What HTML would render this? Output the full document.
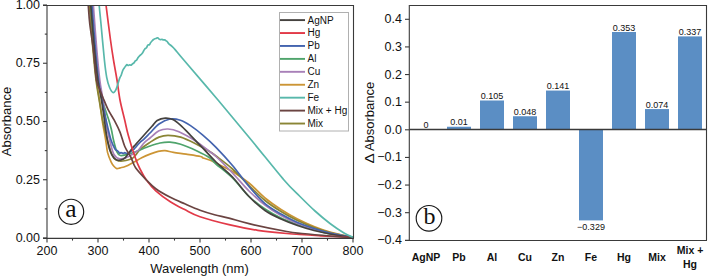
<!DOCTYPE html>
<html><head><meta charset="utf-8"><style>
html,body{margin:0;padding:0;background:#fff;}
body{width:708px;height:277px;overflow:hidden;position:relative;}
svg{position:absolute;left:0;top:0;}
text{font-family:"Liberation Sans",sans-serif;fill:#111;}
</style></head><body>
<svg width="708" height="277" viewBox="0 0 708 277">
<defs><clipPath id="ca"><rect x="47" y="5" width="306.5" height="233.4"/></clipPath></defs>
<g clip-path="url(#ca)" fill="none" stroke-width="1.7" stroke-linejoin="round" stroke-linecap="round">
<path d="M89.80,-8.00 C89.92,-5.75 89.88,-4.17 90.50,5.50 C91.12,15.17 92.50,37.58 93.50,50.00 C94.50,62.42 95.50,71.67 96.50,80.00 C97.50,88.33 98.50,93.00 99.50,100.00 C100.50,107.00 101.47,115.33 102.50,122.00 C103.53,128.67 104.85,134.90 105.70,140.00 C106.55,145.10 106.68,148.92 107.60,152.60 C108.52,156.28 110.15,159.83 111.20,162.10 C112.25,164.37 112.97,165.12 113.90,166.20 C114.83,167.28 115.75,168.33 116.80,168.60 C117.85,168.87 119.00,168.07 120.20,167.80 C121.40,167.53 122.73,167.38 124.00,167.00 C125.27,166.62 126.12,166.32 127.80,165.50 C129.48,164.68 131.78,163.40 134.10,162.10 C136.42,160.80 138.95,159.07 141.70,157.70 C144.45,156.33 147.85,154.95 150.60,153.90 C153.35,152.85 155.80,151.95 158.20,151.40 C160.60,150.85 162.45,150.43 165.00,150.60 C167.55,150.77 169.98,151.80 173.50,152.40 C177.02,153.00 181.60,153.52 186.10,154.20 C190.60,154.88 197.67,155.87 200.50,156.50 C203.33,157.13 201.60,157.42 203.10,158.00 C204.60,158.58 207.35,159.15 209.50,160.00 C211.65,160.85 212.17,161.18 216.00,163.10 C219.83,165.02 227.00,168.18 232.50,171.50 C238.00,174.82 243.58,178.58 249.00,183.00 C254.42,187.42 259.67,193.58 265.00,198.00 C270.33,202.42 275.58,206.00 281.00,209.50 C286.42,213.00 292.00,216.17 297.50,219.00 C303.00,221.83 308.58,224.33 314.00,226.50 C319.42,228.67 323.50,230.20 330.00,232.00 C336.50,233.80 349.17,236.42 353.00,237.30" stroke="#cc9535"/>
<path d="M88.70,-8.00 C88.82,-5.75 88.68,-4.17 89.40,5.50 C90.12,15.17 91.90,37.58 93.00,50.00 C94.10,62.42 94.97,71.67 96.00,80.00 C97.03,88.33 98.03,93.00 99.20,100.00 C100.37,107.00 101.63,115.33 103.00,122.00 C104.37,128.67 105.82,134.35 107.40,140.00 C108.98,145.65 110.93,152.53 112.50,155.90 C114.07,159.27 115.12,159.35 116.80,160.20 C118.48,161.05 119.95,161.35 122.60,161.00 C125.25,160.65 129.80,160.00 132.70,158.10 C135.60,156.20 137.12,152.22 140.00,149.60 C142.88,146.98 146.83,144.48 150.00,142.40 C153.17,140.32 156.00,138.28 159.00,137.10 C162.00,135.92 164.38,135.30 168.00,135.30 C171.62,135.30 176.18,135.75 180.70,137.10 C185.22,138.45 190.28,141.00 195.10,143.40 C199.92,145.80 206.12,149.40 209.60,151.50 C213.08,153.60 212.18,153.08 216.00,156.00 C219.82,158.92 227.00,164.08 232.50,169.00 C238.00,173.92 243.58,180.25 249.00,185.50 C254.42,190.75 259.67,196.17 265.00,200.50 C270.33,204.83 275.58,208.17 281.00,211.50 C286.42,214.83 292.00,217.83 297.50,220.50 C303.00,223.17 308.58,225.50 314.00,227.50 C319.42,229.50 323.50,230.85 330.00,232.50 C336.50,234.15 349.17,236.58 353.00,237.40" stroke="#8a8535"/>
<path d="M90.10,-8.00 C90.22,-5.75 90.02,-4.17 90.80,5.50 C91.58,15.17 93.52,37.58 94.80,50.00 C96.08,62.42 97.33,72.00 98.50,80.00 C99.67,88.00 100.80,93.47 101.80,98.00 C102.80,102.53 103.33,103.53 104.50,107.20 C105.67,110.87 107.63,116.20 108.80,120.00 C109.97,123.80 110.72,126.67 111.50,130.00 C112.28,133.33 112.62,136.40 113.50,140.00 C114.38,143.60 115.65,149.02 116.80,151.60 C117.95,154.18 118.72,155.02 120.40,155.50 C122.08,155.98 124.97,154.92 126.90,154.50 C128.83,154.08 130.07,153.67 132.00,153.00 C133.93,152.33 135.50,151.67 138.50,150.50 C141.50,149.33 146.42,147.25 150.00,146.00 C153.58,144.75 156.67,143.63 160.00,143.00 C163.33,142.37 166.55,141.98 170.00,142.20 C173.45,142.42 176.20,142.83 180.70,144.30 C185.20,145.77 192.18,148.75 197.00,151.00 C201.82,153.25 206.43,155.63 209.60,157.80 C212.77,159.97 212.18,160.63 216.00,164.00 C219.82,167.37 227.00,172.58 232.50,178.00 C238.00,183.42 243.58,191.33 249.00,196.50 C254.42,201.67 259.67,205.42 265.00,209.00 C270.33,212.58 275.58,215.42 281.00,218.00 C286.42,220.58 292.00,222.58 297.50,224.50 C303.00,226.42 308.58,227.95 314.00,229.50 C319.42,231.05 323.50,232.45 330.00,233.80 C336.50,235.15 349.17,236.97 353.00,237.60" stroke="#4fa46c"/>
<path d="M92.70,-8.00 C92.82,-5.75 92.72,-4.17 93.40,5.50 C94.08,15.17 95.73,37.58 96.80,50.00 C97.87,62.42 98.77,71.67 99.80,80.00 C100.83,88.33 101.97,93.00 103.00,100.00 C104.03,107.00 104.90,115.33 106.00,122.00 C107.10,128.67 108.28,134.58 109.60,140.00 C110.92,145.42 112.22,151.37 113.90,154.50 C115.58,157.63 117.53,158.33 119.70,158.80 C121.87,159.27 124.85,158.02 126.90,157.30 C128.95,156.58 130.07,155.72 132.00,154.50 C133.93,153.28 136.50,151.92 138.50,150.00 C140.50,148.08 142.08,145.00 144.00,143.00 C145.92,141.00 147.50,140.03 150.00,138.00 C152.50,135.97 156.00,132.30 159.00,130.80 C162.00,129.30 164.68,128.85 168.00,129.00 C171.32,129.15 174.38,129.75 178.90,131.70 C183.42,133.65 189.98,137.40 195.10,140.70 C200.22,144.00 206.12,148.87 209.60,151.50 C213.08,154.13 212.18,152.92 216.00,156.50 C219.82,160.08 227.00,167.25 232.50,173.00 C238.00,178.75 243.58,185.67 249.00,191.00 C254.42,196.33 259.67,200.92 265.00,205.00 C270.33,209.08 275.58,212.42 281.00,215.50 C286.42,218.58 292.00,221.25 297.50,223.50 C303.00,225.75 308.58,227.37 314.00,229.00 C319.42,230.63 323.50,231.88 330.00,233.30 C336.50,234.72 349.17,236.80 353.00,237.50" stroke="#a880b8"/>
<path d="M91.30,-8.00 C91.42,-5.75 91.30,-4.17 92.00,5.50 C92.70,15.17 94.42,37.58 95.50,50.00 C96.58,62.42 97.42,71.67 98.50,80.00 C99.58,88.33 100.67,93.00 102.00,100.00 C103.33,107.00 105.00,115.33 106.50,122.00 C108.00,128.67 109.58,135.50 111.00,140.00 C112.42,144.50 114.00,147.27 115.00,149.00 C116.00,150.73 116.45,149.98 117.00,150.40 C117.55,150.83 117.87,151.10 118.30,151.57 C118.73,152.03 119.17,153.01 119.60,153.19 C120.03,153.37 120.47,152.70 120.90,152.66 C121.33,152.63 121.77,152.86 122.20,152.98 C122.63,153.10 123.07,153.41 123.50,153.36 C123.93,153.32 124.37,152.72 124.80,152.69 C125.23,152.67 125.67,153.10 126.10,153.21 C126.53,153.32 126.97,153.30 127.40,153.36 C127.83,153.42 128.27,153.80 128.70,153.58 C129.13,153.37 129.57,152.48 130.00,152.06 C130.43,151.65 130.87,151.54 131.30,151.09 C131.73,150.65 132.17,149.66 132.60,149.37 C133.03,149.07 133.47,149.58 133.90,149.32 C134.33,149.05 134.18,148.90 135.20,147.76 C136.22,146.63 138.58,143.91 140.00,142.50 C141.42,141.09 142.03,140.88 143.70,139.30 C145.37,137.72 147.45,135.55 150.00,133.00 C152.55,130.45 155.67,126.33 159.00,124.00 C162.33,121.67 166.43,119.63 170.00,119.00 C173.57,118.37 176.98,119.10 180.40,120.20 C183.82,121.30 186.72,123.08 190.50,125.60 C194.28,128.12 198.85,131.68 203.10,135.30 C207.35,138.92 211.10,142.27 216.00,147.30 C220.90,152.33 227.00,158.97 232.50,165.50 C238.00,172.03 243.58,180.15 249.00,186.50 C254.42,192.85 259.67,199.02 265.00,203.60 C270.33,208.18 275.58,210.85 281.00,214.00 C286.42,217.15 292.00,220.08 297.50,222.50 C303.00,224.92 308.58,226.75 314.00,228.50 C319.42,230.25 323.50,231.50 330.00,233.00 C336.50,234.50 349.17,236.75 353.00,237.50" stroke="#4464af"/>
<path d="M89.90,-8.00 C90.05,-5.75 90.03,-4.17 90.80,5.50 C91.57,15.17 93.33,37.58 94.50,50.00 C95.67,62.42 96.63,71.67 97.80,80.00 C98.97,88.33 100.35,93.00 101.50,100.00 C102.65,107.00 103.78,115.67 104.70,122.00 C105.62,128.33 106.10,133.17 107.00,138.00 C107.90,142.83 108.93,147.67 110.10,151.00 C111.27,154.33 112.77,156.45 114.00,158.00 C115.23,159.55 116.33,159.97 117.50,160.30 C118.67,160.63 119.83,160.33 121.00,160.00 C122.17,159.67 123.33,159.30 124.50,158.30 C125.67,157.30 126.78,155.55 128.00,154.00 C129.22,152.45 130.63,150.47 131.80,149.00 C132.97,147.53 133.92,146.45 135.00,145.20 C136.08,143.95 136.63,143.37 138.30,141.50 C139.97,139.63 142.72,136.53 145.00,134.00 C147.28,131.47 149.97,128.55 152.00,126.30 C154.03,124.05 154.98,121.87 157.20,120.50 C159.42,119.13 162.70,118.25 165.30,118.10 C167.90,117.95 170.28,118.42 172.80,119.60 C175.32,120.78 177.45,122.58 180.40,125.20 C183.35,127.82 186.72,131.43 190.50,135.30 C194.28,139.17 198.85,143.95 203.10,148.40 C207.35,152.85 211.10,157.23 216.00,162.00 C220.90,166.77 227.00,171.25 232.50,177.00 C238.00,182.75 243.58,190.92 249.00,196.50 C254.42,202.08 259.67,206.75 265.00,210.50 C270.33,214.25 275.58,216.50 281.00,219.00 C286.42,221.50 292.00,223.58 297.50,225.50 C303.00,227.42 308.58,229.08 314.00,230.50 C319.42,231.92 323.50,232.82 330.00,234.00 C336.50,235.18 349.17,237.00 353.00,237.60" stroke="#45423f"/>
<path d="M104.50,-8.00 C104.75,-5.83 105.00,-3.00 106.00,5.00 C107.00,13.00 109.25,30.83 110.50,40.00 C111.75,49.17 112.42,53.33 113.50,60.00 C114.58,66.67 115.92,73.33 117.00,80.00 C118.08,86.67 118.72,93.33 120.00,100.00 C121.28,106.67 123.33,114.17 124.70,120.00 C126.07,125.83 126.48,128.83 128.20,135.00 C129.92,141.17 133.03,151.33 135.00,157.00 C136.97,162.67 138.10,165.17 140.00,169.00 C141.90,172.83 143.77,176.37 146.40,180.00 C149.03,183.63 151.82,187.18 155.80,190.80 C159.78,194.42 165.48,198.57 170.30,201.70 C175.12,204.83 179.75,207.10 184.70,209.60 C189.65,212.10 192.63,214.20 200.00,216.70 C207.37,219.20 219.27,222.33 228.90,224.60 C238.53,226.87 248.17,228.82 257.80,230.30 C267.43,231.78 276.33,232.58 286.70,233.50 C297.07,234.42 308.95,235.13 320.00,235.80 C331.05,236.47 347.50,237.22 353.00,237.50" stroke="#e23a48"/>
<path d="M87.50,-8.00 C87.63,-5.75 87.92,0.17 88.30,5.50 C88.68,10.83 88.95,16.58 89.80,24.00 C90.65,31.42 92.28,40.67 93.40,50.00 C94.52,59.33 95.40,73.33 96.50,80.00 C97.60,86.67 98.90,87.00 100.00,90.00 C101.10,93.00 101.77,94.77 103.10,98.00 C104.43,101.23 106.10,105.62 108.00,109.40 C109.90,113.18 112.50,116.92 114.50,120.70 C116.50,124.48 118.28,127.80 120.00,132.10 C121.72,136.40 122.97,142.27 124.80,146.50 C126.63,150.73 129.20,153.95 131.00,157.50 C132.80,161.05 133.03,164.05 135.60,167.80 C138.17,171.55 143.03,176.52 146.40,180.00 C149.77,183.48 151.82,185.82 155.80,188.70 C159.78,191.58 165.48,194.78 170.30,197.30 C175.12,199.82 179.75,201.65 184.70,203.80 C189.65,205.95 195.03,208.38 200.00,210.20 C204.97,212.02 209.68,213.38 214.50,214.70 C219.32,216.02 222.98,216.57 228.90,218.10 C234.82,219.63 240.37,221.67 250.00,223.90 C259.63,226.13 278.03,229.90 286.70,231.50 C295.37,233.10 294.78,232.75 302.00,233.50 C309.22,234.25 321.50,235.33 330.00,236.00 C338.50,236.67 349.17,237.25 353.00,237.50" stroke="#6b4442"/>
<path d="M98.30,-8.00 C98.45,-5.75 98.75,0.17 99.20,5.50 C99.65,10.83 100.13,14.92 101.00,24.00 C101.87,33.08 103.45,51.12 104.40,60.00 C105.35,68.88 105.83,72.72 106.70,77.30 C107.57,81.88 108.52,84.95 109.60,87.50 C110.68,90.05 112.10,92.35 113.20,92.60 C114.30,92.85 115.32,90.78 116.20,89.00 C117.08,87.22 117.88,83.81 118.50,81.92 C119.12,80.03 119.43,78.82 119.90,77.66 C120.37,76.51 120.83,76.15 121.30,74.97 C121.77,73.79 122.23,71.70 122.70,70.58 C123.17,69.46 123.63,68.98 124.10,68.25 C124.57,67.53 125.03,66.86 125.50,66.25 C125.97,65.64 126.43,64.73 126.90,64.60 C127.37,64.48 127.83,65.48 128.30,65.51 C128.77,65.54 129.23,64.83 129.70,64.77 C130.17,64.70 130.63,65.26 131.10,65.12 C131.57,64.97 132.03,64.28 132.50,63.90 C132.97,63.53 133.43,63.36 133.90,62.87 C134.37,62.38 134.83,61.44 135.30,60.96 C135.77,60.48 136.23,60.57 136.70,59.98 C137.17,59.39 137.63,58.09 138.10,57.41 C138.57,56.73 139.03,56.38 139.50,55.91 C139.97,55.45 140.43,55.09 140.90,54.64 C141.37,54.19 141.83,53.88 142.30,53.24 C142.77,52.60 143.23,51.57 143.70,50.80 C144.17,50.04 144.63,49.15 145.10,48.65 C145.57,48.16 146.03,48.42 146.50,47.81 C146.97,47.21 147.43,45.52 147.90,45.02 C148.37,44.52 148.83,45.25 149.30,44.84 C149.77,44.43 150.23,43.21 150.70,42.55 C151.17,41.89 151.63,41.40 152.10,40.89 C152.57,40.39 153.03,39.89 153.50,39.53 C153.97,39.16 154.43,38.89 154.90,38.69 C155.37,38.49 155.83,38.48 156.30,38.33 C156.77,38.19 157.23,37.68 157.70,37.80 C158.17,37.93 158.63,38.78 159.10,39.09 C159.57,39.40 160.03,39.61 160.50,39.66 C160.97,39.72 161.43,39.39 161.90,39.42 C162.37,39.45 162.83,39.76 163.30,39.84 C163.77,39.92 164.23,39.72 164.70,39.89 C165.17,40.05 165.63,40.47 166.10,40.82 C166.57,41.17 167.03,41.49 167.50,41.99 C167.97,42.49 168.15,43.08 168.90,43.82 C169.65,44.55 170.97,45.44 172.00,46.40 C173.03,47.36 173.13,47.33 175.10,49.60 C177.07,51.87 176.65,51.60 183.80,60.00 C190.95,68.40 206.75,86.67 218.00,100.00 C229.25,113.33 240.30,126.67 251.30,140.00 C262.30,153.33 275.88,170.58 284.00,180.00 C292.12,189.42 294.83,191.33 300.00,196.50 C305.17,201.67 310.00,206.50 315.00,211.00 C320.00,215.50 325.17,219.83 330.00,223.50 C334.83,227.17 340.17,230.70 344.00,233.00 C347.83,235.30 351.50,236.58 353.00,237.30" stroke="#58b8ab"/>
</g>
<g stroke="#3a3a3a" stroke-width="1.1" fill="none">
<line x1="43" y1="5.5" x2="354" y2="5.5"/><line x1="353.5" y1="5" x2="353.5" y2="238.4"/><line x1="47" y1="5" x2="47" y2="238.4"/><line x1="43" y1="238.4" x2="354" y2="238.4"/>
<line x1="47.00" y1="238" x2="47.00" y2="242.40"/><line x1="72.50" y1="238" x2="72.50" y2="240.60"/><line x1="98.00" y1="238" x2="98.00" y2="242.40"/><line x1="123.50" y1="238" x2="123.50" y2="240.60"/><line x1="149.00" y1="238" x2="149.00" y2="242.40"/><line x1="174.50" y1="238" x2="174.50" y2="240.60"/><line x1="200.00" y1="238" x2="200.00" y2="242.40"/><line x1="225.50" y1="238" x2="225.50" y2="240.60"/><line x1="251.00" y1="238" x2="251.00" y2="242.40"/><line x1="276.50" y1="238" x2="276.50" y2="240.60"/><line x1="302.00" y1="238" x2="302.00" y2="242.40"/><line x1="327.50" y1="238" x2="327.50" y2="240.60"/><line x1="353.00" y1="238" x2="353.00" y2="242.40"/><line x1="47" y1="238.00" x2="43.00" y2="238.00"/><line x1="47" y1="208.88" x2="44.80" y2="208.88"/><line x1="47" y1="179.75" x2="43.00" y2="179.75"/><line x1="47" y1="150.62" x2="44.80" y2="150.62"/><line x1="47" y1="121.50" x2="43.00" y2="121.50"/><line x1="47" y1="92.38" x2="44.80" y2="92.38"/><line x1="47" y1="63.25" x2="43.00" y2="63.25"/><line x1="47" y1="34.12" x2="44.80" y2="34.12"/><line x1="47" y1="5.00" x2="43.00" y2="5.00"/>
</g>
<g font-size="12.5" text-anchor="middle"><text x="47.00" y="255">200</text><text x="98.00" y="255">300</text><text x="149.00" y="255">400</text><text x="200.00" y="255">500</text><text x="251.00" y="255">600</text><text x="302.00" y="255">700</text><text x="353.00" y="255">800</text></g>
<g font-size="12.5" text-anchor="end"><text x="40" y="241.80">0.00</text><text x="40" y="183.55">0.25</text><text x="40" y="125.30">0.50</text><text x="40" y="67.05">0.75</text><text x="40" y="8.80">1.00</text></g>
<text x="199.5" y="273.3" font-size="13" text-anchor="middle">Wavelength (nm)</text>
<text transform="translate(11.2,121.5) rotate(-90)" font-size="13" text-anchor="middle">Absorbance</text>
<g font-size="10"><rect x="279.5" y="12.5" width="69" height="118.5" fill="#fff" stroke="#b0b0b0" stroke-width="1"/><line x1="280" y1="20.10" x2="305" y2="20.10" stroke="#45423f" stroke-width="1.9"/><text x="307.5" y="23.50">AgNP</text><line x1="280" y1="33.03" x2="305" y2="33.03" stroke="#e23a48" stroke-width="1.9"/><text x="307.5" y="36.43">Hg</text><line x1="280" y1="45.96" x2="305" y2="45.96" stroke="#4464af" stroke-width="1.9"/><text x="307.5" y="49.36">Pb</text><line x1="280" y1="58.89" x2="305" y2="58.89" stroke="#4fa46c" stroke-width="1.9"/><text x="307.5" y="62.29">Al</text><line x1="280" y1="71.82" x2="305" y2="71.82" stroke="#a880b8" stroke-width="1.9"/><text x="307.5" y="75.22">Cu</text><line x1="280" y1="84.75" x2="305" y2="84.75" stroke="#cc9535" stroke-width="1.9"/><text x="307.5" y="88.15">Zn</text><line x1="280" y1="97.68" x2="305" y2="97.68" stroke="#58b8ab" stroke-width="1.9"/><text x="307.5" y="101.08">Fe</text><line x1="280" y1="110.61" x2="305" y2="110.61" stroke="#6b4442" stroke-width="1.9"/><text x="307.5" y="114.01">Mix + Hg</text><line x1="280" y1="123.54" x2="305" y2="123.54" stroke="#8a8535" stroke-width="1.9"/><text x="307.5" y="126.94">Mix</text></g>
<circle cx="71.1" cy="211.8" r="12.6" fill="none" stroke="#1a1a1a" stroke-width="1.15"/>
<text x="71.0" y="217.0" font-size="25.5" text-anchor="middle" style="font-family:'Liberation Serif',serif">a</text>

<g fill="#5b8ec4"><rect x="447.00" y="126.74" width="24" height="2.76"/><rect x="480.00" y="100.49" width="24" height="29.01"/><rect x="513.00" y="116.24" width="24" height="13.26"/><rect x="546.00" y="90.55" width="24" height="38.95"/><rect x="579.00" y="129.50" width="24" height="90.89"/><rect x="612.00" y="31.98" width="24" height="97.52"/><rect x="645.00" y="109.06" width="24" height="20.44"/><rect x="678.00" y="36.40" width="24" height="93.10"/></g>
<g stroke="#3a3a3a" stroke-width="1.1" fill="none">
<line x1="409.3" y1="5.5" x2="707" y2="5.5"/><line x1="706.5" y1="5" x2="706.5" y2="240.5"/><line x1="409.3" y1="5" x2="409.3" y2="241"/><line x1="405" y1="240.5" x2="707" y2="240.5"/>
<line x1="409.3" y1="129.5" x2="706.5" y2="129.5" stroke-width="1.3"/>
<line x1="405" y1="19.30" x2="409.3" y2="19.30"/><line x1="405" y1="46.92" x2="409.3" y2="46.92"/><line x1="405" y1="74.55" x2="409.3" y2="74.55"/><line x1="405" y1="102.17" x2="409.3" y2="102.17"/><line x1="405" y1="129.80" x2="409.3" y2="129.80"/><line x1="405" y1="157.43" x2="409.3" y2="157.43"/><line x1="405" y1="185.05" x2="409.3" y2="185.05"/><line x1="405" y1="212.68" x2="409.3" y2="212.68"/><line x1="405" y1="240.30" x2="409.3" y2="240.30"/>
</g>
<g font-size="12.5" text-anchor="end"><text x="402" y="23.30">0.4</text><text x="402" y="50.92">0.3</text><text x="402" y="78.55">0.2</text><text x="402" y="106.17">0.1</text><text x="402" y="133.80">0.0</text><text x="402" y="161.43">−0.1</text><text x="402" y="189.05">−0.2</text><text x="402" y="216.68">−0.3</text><text x="402" y="244.30">−0.4</text></g>
<g font-size="9" text-anchor="middle"><text x="426.00" y="128.10">0</text><text x="459.00" y="125.34">0.01</text><text x="492.00" y="99.09">0.105</text><text x="525.00" y="114.84">0.048</text><text x="558.00" y="89.15">0.141</text><text x="591.00" y="229.89">−0.329</text><text x="624.00" y="30.58">0.353</text><text x="657.00" y="107.66">0.074</text><text x="690.00" y="35.00">0.337</text></g>
<g font-size="10.5" font-weight="bold" text-anchor="middle"><text x="426.00" y="260.7">AgNP</text><text x="459.00" y="260.7">Pb</text><text x="492.00" y="260.7">Al</text><text x="525.00" y="260.7">Cu</text><text x="558.00" y="260.7">Zn</text><text x="591.00" y="260.7">Fe</text><text x="624.00" y="260.7">Hg</text><text x="657.00" y="260.7">Mix</text><text x="690.00" y="253.5">Mix +</text><text x="690.00" y="268.2">Hg</text></g>
<text transform="translate(374,163.6) rotate(-90) scale(1.17,1)" font-size="13">Δ</text>
<text transform="translate(374,151.1) rotate(-90)" font-size="13">Absorbance</text>
<circle cx="429" cy="218.3" r="12.8" fill="none" stroke="#1a1a1a" stroke-width="1.15"/>
<text x="429.6" y="223.6" font-size="24" text-anchor="middle" style="font-family:'Liberation Serif',serif">b</text>
</svg>
</body></html>
